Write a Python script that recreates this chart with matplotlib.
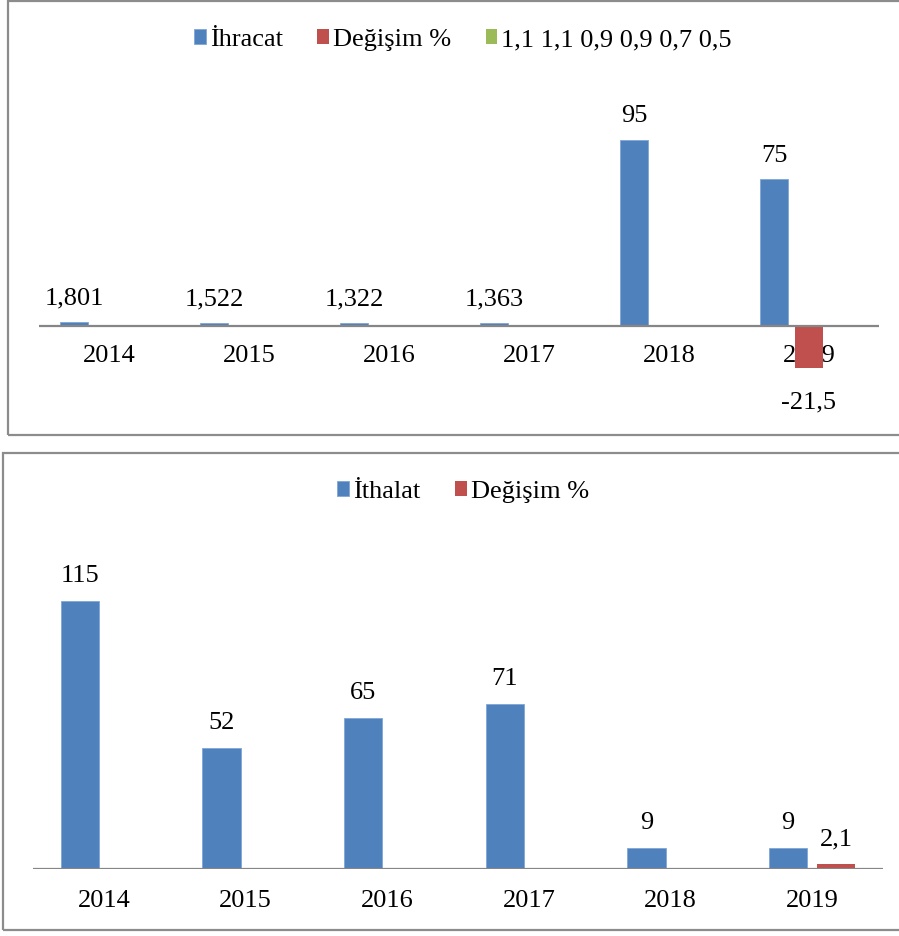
import numpy as np
import matplotlib.pyplot as plt
from matplotlib.patches import Rectangle

plt.rcParams['font.family'] = ['Liberation Serif', 'DejaVu Serif']

# Data
years = ['2014', '2015', '2016', '2017', '2018', '2019']
ihracat = [1.801, 1.522, 1.322, 1.363, 95, 75]
degisim_ihr = [np.nan, np.nan, np.nan, np.nan, np.nan, -21.5]
yesil = [0.5, np.nan, np.nan, np.nan, np.nan, np.nan]
yesil_ad = '1,1 1,1 0,9 0,9 0,7 0,5'
ithalat = [115, 52, 65, 71, 9, 9]
degisim_ith = [np.nan, np.nan, np.nan, np.nan, np.nan, 2.1]

blue = '#4F81BD'
red = '#C0504D'
green = '#9BBB59'
grey = '#8C8C8C'
fs = 19

W, H = 899, 936


def fmt(v):
    if float(v).is_integer():
        return str(int(v))
    return str(v).replace('.', ',')


def px_axes(fig, x0, x1, ytop, ybot):
    return fig.add_axes([x0 / W, 1 - ybot / H, (x1 - x0) / W, (ybot - ytop) / H])


def label_bars(ax, bars, vals, up=9, down=17):
    for b, v in zip(bars, vals):
        if np.isnan(v) or v == 0:
            continue
        x = b.get_x() + b.get_width() / 2
        if v >= 0:
            ax.annotate(fmt(v), (x, v), xytext=(0, up), textcoords='offset points',
                        ha='center', va='bottom', fontsize=fs, annotation_clip=False)
        else:
            ax.annotate(fmt(v), (x, v), xytext=(0, -down), textcoords='offset points',
                        ha='center', va='top', fontsize=fs, annotation_clip=False)


def style(ax, ylim, pad):
    ax.set_xlim(-0.5, 5.5)
    ax.set_ylim(*ylim)
    for s in ax.spines.values():
        s.set_visible(False)
    # tick labels sit just under the zero line
    ax.spines['bottom'].set_position(('data', 0))
    ax.set_yticks([])
    ax.set_xticks(range(len(years)))
    ax.set_xticklabels(years, fontsize=fs)
    ax.tick_params(axis='x', length=0, pad=pad)
    ax.set_axisbelow(True)
    ax.axhline(0, color='#868686', lw=1.6, zorder=3)


fig = plt.figure(figsize=(W / 100, H / 100), dpi=100)

# frames around the two charts
fig.patches.append(Rectangle((8 / W, 1 - 435 / H), 1.2, 434 / H, transform=fig.transFigure,
                             fill=False, edgecolor=grey, lw=1.6))
fig.patches.append(Rectangle((3 / W, 1 - 930 / H), 1.2, 477 / H, transform=fig.transFigure,
                             fill=False, edgecolor=grey, lw=1.6))

# Top chart: exports
x = np.arange(len(years))
ax1 = px_axes(fig, 39, 879, 110.6, 384.7)
b1 = ax1.bar(x - 0.25, ihracat, 0.2, color=blue, edgecolor='#7FA6D6', lw=0.6, label='İhracat')
b2 = ax1.bar(x, degisim_ihr, 0.2, color=red, label='Değişim %')
b3 = ax1.bar(x + 0.25, yesil, 0.2, color=green, label=yesil_ad)
style(ax1, (-30, 110), 14)
label_bars(ax1, b1, ihracat)
label_bars(ax1, b2, degisim_ihr)
fig.legend(handles=[b1, b2, b3], loc='center', bbox_to_anchor=(463 / W, 1 - 40 / H),
           ncol=3, frameon=False, fontsize=fs, handlelength=0.45, handleheight=0.5,
           handletextpad=0.15, columnspacing=1.3)

# Bottom chart: imports
ax2 = px_axes(fig, 33, 883, 566, 869)
c1 = ax2.bar(x - 0.17, ithalat, 0.27, color=blue, edgecolor='#7FA6D6', lw=0.6, label='İthalat')
c2 = ax2.bar(x + 0.17, degisim_ith, 0.27, color=red, label='Değişim %')
style(ax2, (0, 130), 15)
label_bars(ax2, c1, ithalat, up=10)
label_bars(ax2, c2, degisim_ith, up=10)
fig.legend(handles=[c1, c2], loc='center', bbox_to_anchor=(463 / W, 1 - 492 / H),
           ncol=2, frameon=False, fontsize=fs, handlelength=0.45, handleheight=0.5,
           handletextpad=0.15, columnspacing=1.3)

fig.savefig('out.png', dpi=100)
